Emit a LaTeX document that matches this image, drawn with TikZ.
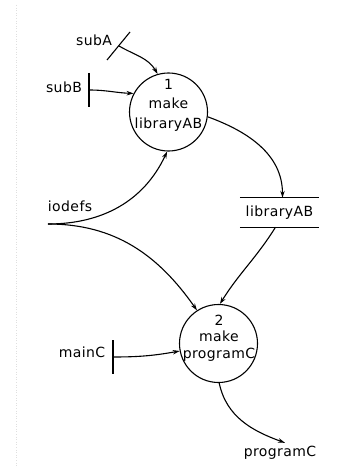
\documentclass[tikz,border=0pt]{standalone}
\usepackage{fontspec}
\setmainfont[LetterSpace=3]{DejaVu Sans}
\usetikzlibrary{arrows.meta}

\begin{document}
\begin{tikzpicture}[x=1pt, y=-1pt,
    every node/.style={font=\fontsize{14}{18}\selectfont},
    flow/.style={-{Stealth[length=7pt,width=4.5pt]}, line width=1.1pt},
    proc/.style={circle, draw, line width=1.1pt, minimum size=78pt, inner sep=0pt}]
  \useasboundingbox (0,0) rectangle (341,468);
  \def\barlen{17}

  \draw[gray!25, dotted, line width=0.6pt] (16,5) -- (16,468);

  \node[proc] (p1) at (168.5,112) {};
  \node[align=center, font=\fontsize{14}{19.5}\selectfont] (p1t) at (168.5,105) {1\\make\\libraryAB};
  \node[proc] (p2) at (218.5,343.5) {};
  \node[align=center, font=\fontsize{14}{16.5}\selectfont] (p2t) at (219,338) {2\\make\\programC};

  \node[minimum width=79pt, minimum height=29pt, inner sep=0pt] (lib) at (279.5,212.5) {libraryAB};
  \draw[line width=1.1pt] (lib.north west) -- (lib.north east) (lib.south west) -- (lib.south east);

  \node (subA) at (94,40) {subA};
  \node (subB) at (64,87) {subB};
  \node (iodefs) at (70,206) {iodefs};
  \node (mainC) at (82,352) {mainC};
  \node (prog) at (280,453) {programC};

  \coordinate (sA) at (119,46);
  \draw[line width=1.1pt] (107,60) -- (130,32);
  \coordinate (io) at (48,224);
  \foreach \name/\x/\y in {sB/89/90, sM/113/357} {
    \coordinate (\name) at (\x,\y);
    \draw[line width=1.1pt] (\x,\y-\barlen) -- (\x,\y+\barlen);
  }

  \draw[flow] (sA) to[out=-30,in=120] (p1.106);
  \draw[flow] (sB) to[out=0,in=178] (p1.152);
  \draw[flow] (io) to[out=0,in=-115] (p1.-92);
  \draw[flow] (io) to[out=0,in=125] (p2.123);
  \draw[flow] (p1.-7) to[out=-20,in=90] ([xshift=3pt]lib.north);
  \draw[flow] ([xshift=-4pt]lib.south) to[out=-122,in=58] (p2.88);
  \draw[flow] (sM) to[out=0,in=190] (p2.191);
  \draw[flow] (p2.-89) to[out=-78,in=160] ([xshift=5pt]prog.north);
\end{tikzpicture}
\end{document}
